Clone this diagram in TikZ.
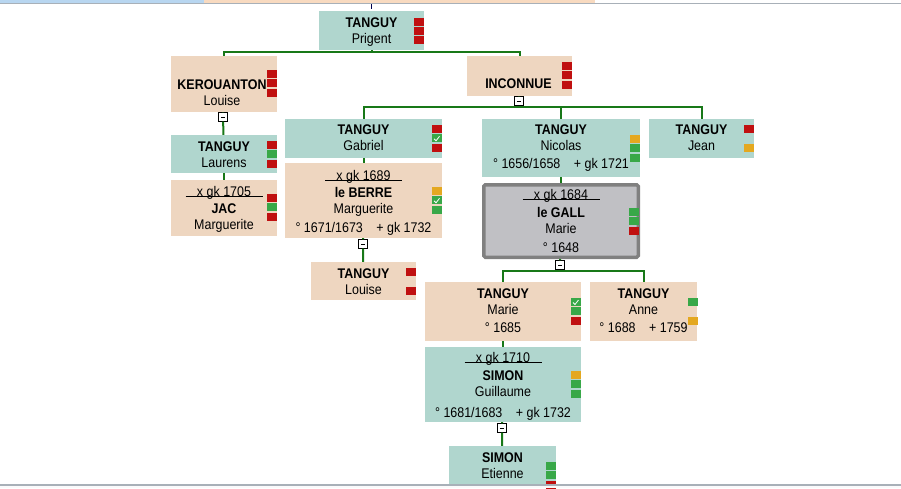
\documentclass[tikz,border=0pt]{standalone}
\usepackage{fontspec}
\setmainfont{Liberation Sans}[FakeStretch=0.89]
\definecolor{boxTeal}{RGB}{176,214,206}
\definecolor{boxPeach}{RGB}{238,214,192}
\definecolor{boxGrey}{RGB}{192,192,196}
\definecolor{edgeGrey}{RGB}{128,128,128}
\definecolor{lineGreen}{RGB}{24,120,24}
\definecolor{fr}{RGB}{192,16,16}
\definecolor{fg}{RGB}{56,168,72}
\definecolor{fo}{RGB}{228,168,32}
\definecolor{barBlue}{RGB}{184,214,240}
\definecolor{barPeach}{RGB}{248,218,192}
\definecolor{rule}{RGB}{168,176,184}
% flag squares beside a person box
\newcommand\flags[3]{\foreach \c [count=\i from 0] in {#3} {\fill[fill=\c] (#1,{#2+9.3*\i}) rectangle ++(9.5,8.1);}}
\newcommand\tick[2]{\draw[white, line width=0.8pt] (#1+2,#2+4.5) -- (#1+4,#2+6.5) -- (#1+7.5,#2+2);}
\newcommand\xgk[1]{\makebox[77pt]{#1}\llap{\rule[-1.2pt]{77pt}{0.8pt}}}
\begin{document}
\begin{tikzpicture}[x=1pt, y=-1pt]
  \tikzstyle{teal} = [rectangle, fill=boxTeal, inner sep=0pt]
  \tikzstyle{peach} = [rectangle, fill=boxPeach, inner sep=0pt]
  \tikzstyle{txt} = [anchor=base, align=center, inner sep=0pt, font=\fontsize{14}{16}\selectfont]
  \tikzstyle{toggle} = [rectangle, draw=black, fill=white, line width=0.7pt, minimum size=8.5pt, inner sep=0pt,
    path picture={\draw[line width=0.7pt] ([xshift=2.2pt]path picture bounding box.west) -- ([xshift=-2.2pt]path picture bounding box.east);}]
  \tikzstyle{link} = [draw=lineGreen, line width=2pt]

  \fill[white] (0,0) rectangle (901,488);
  \useasboundingbox (0,0) rectangle (901,488);
  \fill[barBlue] (0,0) rectangle (204,3);
  \fill[barPeach] (204,0) rectangle (595,3);
  \draw[rule, line width=1pt] (0,3.5) -- (901,3.5);

  % boxes
  \node (prigent) [teal, minimum width=105pt, minimum height=39pt] at (371.5,30.5) {};
  \node (kerouanton) [peach, minimum width=106pt, minimum height=56pt] at (224,84) {};
  \node (inconnue) [peach, minimum width=105pt, minimum height=40pt] at (519.5,76) {};
  \node (laurens) [teal, minimum width=106pt, minimum height=38pt] at (224,154) {};
  \node (jac) [peach, minimum width=106pt, minimum height=56pt] at (224,208) {};
  \node (gabriel) [teal, minimum width=157pt, minimum height=39pt] at (363.5,138.5) {};
  \node (leberre) [peach, minimum width=157pt, minimum height=75pt] at (363.5,200.5) {};
  \node (louise) [peach, minimum width=105pt, minimum height=38pt] at (363.5,281) {};
  \node (nicolas) [teal, minimum width=158pt, minimum height=58pt] at (561,148) {};
  \node (legall) [rectangle, fill=boxGrey, draw=edgeGrey, line width=3.5pt, rounded corners=1.5pt, inner sep=0pt,
    minimum width=154.5pt, minimum height=72.5pt] at (561,221) {};
  \node (jean) [teal, minimum width=105pt, minimum height=39pt] at (701.5,138.5) {};
  \node (marie) [peach, minimum width=156pt, minimum height=59pt] at (503,311.5) {};
  \node (anne) [peach, minimum width=107pt, minimum height=59pt] at (643.5,311.5) {};
  \node (guillaume) [teal, minimum width=156pt, minimum height=75pt] at (503,384.5) {};
  \node (etienne) [teal, minimum width=107pt, minimum height=39pt] at (502.5,465.5) {};

  % flags
  \flags{414}{17.5}{fr,fr,fr}
  \flags{267}{70}{fr,fr,fr}
  \flags{562}{62}{fr,fr,fr}
  \flags{267}{141}{fr,fg,fr}
  \flags{267}{194}{fr,fg,fr}
  \flags{432}{125}{fr,fg,fr} \tick{432}{134.3}
  \flags{432}{187}{fo,fg,fg} \tick{432}{196.3}
  \flags{406}{268}{fr,none,fr}
  \flags{630}{135}{fo,fg,fg}
  \flags{629}{208}{fg,fg,fr}
  \flags{744}{125}{fr,none,fo}
  \flags{571}{298}{fg,fg,fr} \tick{571}{298}
  \flags{688}{298}{fg,none,fo}
  \flags{571}{371}{fo,fg,fg}
  \flags{546}{462}{fg,fg,fr}

  % texts (anchored on the last baseline)
  \node (prigentT) [txt] at (371.5,43.5) {\textbf{TANGUY}\\Prigent};
  \node (kerouantonT) [txt] at (222,105) {\textbf{KEROUANTON}\\Louise};
  \node (inconnueT) [txt] at (518.5,88) {\textbf{INCONNUE}};
  \node (laurensT) [txt] at (224,167) {\textbf{TANGUY}\\Laurens};
  \node (jacT) [txt] at (224,229) {\xgk{x gk 1705}\\[1pt]\textbf{JAC}\\Marguerite};
  \node (gabrielT) [txt] at (363.5,150) {\textbf{TANGUY}\\Gabriel};
  \node (leberreT) [txt] at (363.5,232) {\xgk{x gk 1689}\\[1pt]\textbf{le BERRE}\\Marguerite\\[3pt]° 1671/1673\hspace{10pt} + gk 1732};
  \node (louiseT) [txt] at (363.5,294) {\textbf{TANGUY}\\Louise};
  \node (nicolasT) [txt] at (561,168) {\textbf{TANGUY}\\Nicolas\\[2pt]° 1656/1658\hspace{10pt} + gk 1721};
  \node (legallT) [txt] at (561,252) {\xgk{x gk 1684}\\[2pt]\textbf{le GALL}\\Marie\\[3pt]° 1648\hspace{8pt}};
  \node (jeanT) [txt] at (701.5,150) {\textbf{TANGUY}\\Jean};
  \node (marieT) [txt] at (503,332) {\textbf{TANGUY}\\Marie\\[2pt]° 1685\hspace{8pt}};
  \node (anneT) [txt] at (643.5,332) {\textbf{TANGUY}\\Anne\\[2pt]° 1688\hspace{10pt} + 1759};
  \node (guillaumeT) [txt] at (503,417) {\xgk{x gk 1710}\\[2pt]\textbf{SIMON}\\Guillaume\\[5pt]° 1681/1683\hspace{10pt} + gk 1732};
  \node (etienneT) [txt] at (502.5,478) {\textbf{SIMON}\\Etienne};

  % fold buttons
  \node (foldA) [toggle] at (223,117) {};
  \node (foldB) [toggle] at (519,101) {};
  \node (foldC) [toggle] at (363,244) {};
  \node (foldD) [toggle] at (560,265) {};
  \node (foldE) [toggle] at (502,428) {};

  % connectors
  \draw [draw=black!70!blue, line width=1.2pt] (prigent.north) ++(0,-2) coordinate (up) -- ++(0,-5);
  \path (prigent.south) ++(0,2) coordinate (j1);
  \draw [link] (prigent.south) -- (j1);
  \draw [link] (kerouanton.north) |- (j1) -| (inconnue.north);
  \draw [link] (kerouanton) -- (foldA);
  \draw [link] (foldA) -- (laurens);
  \draw [link] (laurens) -- (jac);
  \draw [link] (inconnue) -- (foldB);
  \path (foldB.south) ++(0,1.5) coordinate (j2);
  \draw [link] (foldB.south) -- (j2);
  \draw [link] (gabriel.north) |- (j2) -| (jean.north);
  \draw [link] (nicolas.north) -- (nicolas.north |- j2);
  \draw [link] (gabriel) -- (leberre);
  \draw [link] (leberre) -- (foldC);
  \draw [link] (foldC) -- (louise);
  \draw [link] (nicolas) -- (legall);
  \draw [link] (legall) -- (foldD);
  \path (foldD.south) ++(0,1) coordinate (j3);
  \draw [link] (marie.north) |- (j3) -| (anne.north);
  \draw [link] (marie) -- (guillaume);
  \draw [link] (guillaume) -- (foldE);
  \draw [link] (foldE) -- (etienne);

  \fill[white!94!rule] (0,485) rectangle (901,488);
  \draw[rule, line width=1.5pt] (0,485) -- (901,485);
\end{tikzpicture}
\end{document}
